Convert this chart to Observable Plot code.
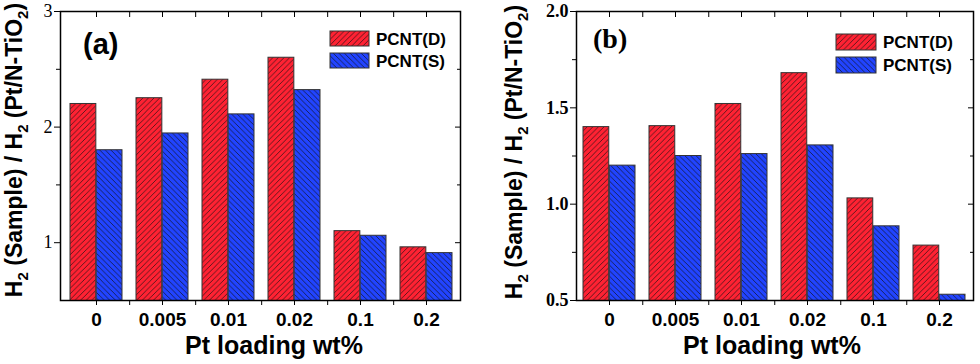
<!DOCTYPE html>
<html><head><meta charset="utf-8">
<script src="https://cdn.jsdelivr.net/npm/d3@7"></script>
<script src="https://cdn.jsdelivr.net/npm/@observablehq/plot@0.6"></script>
<style>
html,body{margin:0;padding:0;background:#fff;}
#wrap{display:flex;width:980px;height:364px;overflow:hidden;}
#wrap svg{display:block;}
</style></head><body>
<svg width="0" height="0" style="position:absolute">
<defs>
<pattern id="hatchD" patternUnits="userSpaceOnUse" width="5.6" height="5.6">
<rect width="5.6" height="5.6" fill="#ff2233"/>
<path d="M-1.4,1.4 L1.4,-1.4 M0,5.6 L5.6,0 M4.2,7 L7,4.2" stroke="#111" stroke-width="0.75" stroke-opacity="0.9"/>
</pattern>
<pattern id="hatchS" patternUnits="userSpaceOnUse" width="5.6" height="5.6">
<rect width="5.6" height="5.6" fill="#2244ff"/>
<path d="M-1.4,4.2 L1.4,7 M0,0 L5.6,5.6 M4.2,-1.4 L7,1.4" stroke="#111" stroke-width="0.75" stroke-opacity="0.9"/>
</pattern>
</defs></svg>
<div id="wrap"></div>
<script>
const categories = ["0", "0.005", "0.01", "0.02", "0.1", "0.2"];
const seriesNames = ["PCNT(D)", "PCNT(S)"];
const aD = [2.20, 2.25, 2.41, 2.60, 1.10, 0.96];
const aS = [1.80, 1.945, 2.11, 2.32, 1.06, 0.91];
const bD = [1.40, 1.405, 1.52, 1.68, 1.03, 0.785];
const bS = [1.20, 1.25, 1.26, 1.305, 0.885, 0.53];
const aMajor = [1, 2, 3];
const aMinor = [1.5, 2.5];
const bMajor = [0.5, 1.0, 1.5, 2.0];
const bMinor = [0.75, 1.25, 1.75];
const xTitle = "Pt loading wt%";

const W = 490, H = 364, MT = 11, MB = 64;
const sans = "'Liberation Sans', Arial, sans-serif";
const serif = "'Liberation Serif', 'Times New Roman', serif";

function panel(o) {
  const rowsD = categories.map((c, i) => ({cat: c, value: o.d[i]}));
  const rowsS = categories.map((c, i) => ({cat: c, value: o.s[i]}));
  const step = (o.range[1] - o.range[0]) / categories.length;
  const half = step / 2, inset = 7;
  const none = () => "";
  const bounds = categories.slice(0, -1);
  const svg = Plot.plot({
    width: W, height: H,
    marginLeft: o.ml, marginRight: o.mr, marginTop: MT, marginBottom: MB,
    style: {color: "#000", background: "#fff", overflow: "visible"},
    x: {type: "band", domain: categories, range: o.range, padding: 0},
    y: {domain: o.domain},
    marks: [
      Plot.barY(rowsD, {x: "cat", y: "value", fill: "url(#hatchD)", stroke: "#333", strokeWidth: 1, insetLeft: inset, insetRight: half, clip: true}),
      Plot.barY(rowsS, {x: "cat", y: "value", fill: "url(#hatchS)", stroke: "#333", strokeWidth: 1, insetLeft: half, insetRight: inset, clip: true}),
      Plot.frame({stroke: "#000", strokeWidth: 1.5}),
      Plot.axisY({anchor: "left", ticks: o.major, tickSize: 6, tickPadding: 2, tickFormat: o.fmt, fontSize: 18, fontFamily: serif, fontWeight: o.yWeight, label: null}),
      Plot.axisY({anchor: "left", ticks: o.minor, tickSize: 4, tickFormat: none, label: null}),
      Plot.axisY({anchor: "right", ticks: o.major, tickSize: -6, tickFormat: none, label: null}),
      Plot.axisY({anchor: "right", ticks: o.minor, tickSize: -4, tickFormat: none, label: null}),
      Plot.axisX({anchor: "bottom", tickSize: 5, tickPadding: 7, fontSize: 19, fontWeight: "bold", fontFamily: sans, label: null}),
      Plot.axisX({anchor: "bottom", ticks: bounds, tickSize: 5, dx: half, tickFormat: none, label: null}),
      Plot.axisX({anchor: "top", tickSize: -5, tickFormat: none, label: null}),
      Plot.axisX({anchor: "top", ticks: bounds, tickSize: -5, dx: half, tickFormat: none, label: null})
    ]
  });
  const s = d3.select(svg);
  // y label
  const yl = s.append("text")
    .attr("transform", `translate(${o.ylab[0]},${o.ylab[1]}) rotate(-90)`)
    .attr("text-anchor", "middle")
    .attr("font-family", sans).attr("font-weight", "bold").attr("font-size", 23).attr("fill", "#000");
  const parts = [["H", 0], ["2", 1], [" (Sample) / H", 0], ["2", 1], [" (Pt/N-TiO", 0], ["2", 1], [")", 0]];
  let prevSub = 0;
  parts.forEach(([t, sub]) => {
    const ts = yl.append("tspan").text(t);
    if (sub) ts.attr("font-size", 15).attr("dy", 6);
    else if (prevSub) ts.attr("dy", -6);
    prevSub = sub;
  });
  // x title
  s.append("text").attr("x", o.xlab).attr("y", 354).attr("text-anchor", "middle")
    .attr("font-family", sans).attr("font-weight", "bold").attr("font-size", 25).attr("fill", "#000")
    .text(xTitle);
  // tag
  s.append("text").attr("x", o.tag.x).attr("y", o.tag.y).attr("text-anchor", "start")
    .attr("font-family", o.tag.font).attr("font-weight", "bold").attr("font-size", o.tag.size).attr("fill", "#000")
    .text(o.tag.text);
  // legend
  const fills = ["url(#hatchD)", "url(#hatchS)"];
  seriesNames.forEach((name, i) => {
    const y0 = o.leg.y + i * o.leg.gap;
    s.append("rect").attr("x", o.leg.x).attr("y", y0).attr("width", o.leg.w).attr("height", o.leg.h)
      .attr("fill", fills[i]).attr("stroke", "#333").attr("stroke-width", 1);
    s.append("text").attr("x", o.leg.x + o.leg.w + 7).attr("y", y0 + o.leg.h / 2 + 6).attr("text-anchor", "start")
      .attr("font-family", sans).attr("font-weight", "bold").attr("font-size", 17).attr("fill", "#000")
      .text(name);
  });
  return svg;
}

const wrap = document.getElementById("wrap");
wrap.appendChild(panel({
  d: aD, s: aS, domain: [0.5, 3], major: aMajor, minor: aMinor,
  ml: 60, mr: 30, range: [62, 460], fmt: d => String(d), yWeight: "normal",
  ylab: [22, 150], xlab: 274,
  tag: {x: 83, y: 54, text: "(a)", font: sans, size: 29},
  leg: {x: 330, y: 31, w: 39, h: 15, gap: 22}
}));
wrap.appendChild(panel({
  d: bD, s: bS, domain: [0.5, 2.0], major: bMajor, minor: bMinor,
  ml: 86, mr: 7, range: [84, 483], fmt: d3.format(".1f"), yWeight: "bold",
  ylab: [32, 152], xlab: 282,
  tag: {x: 103, y: 48, text: "(b)", font: serif, size: 28},
  leg: {x: 346, y: 34, w: 40, h: 16, gap: 23}
}));
</script>
</body></html>
